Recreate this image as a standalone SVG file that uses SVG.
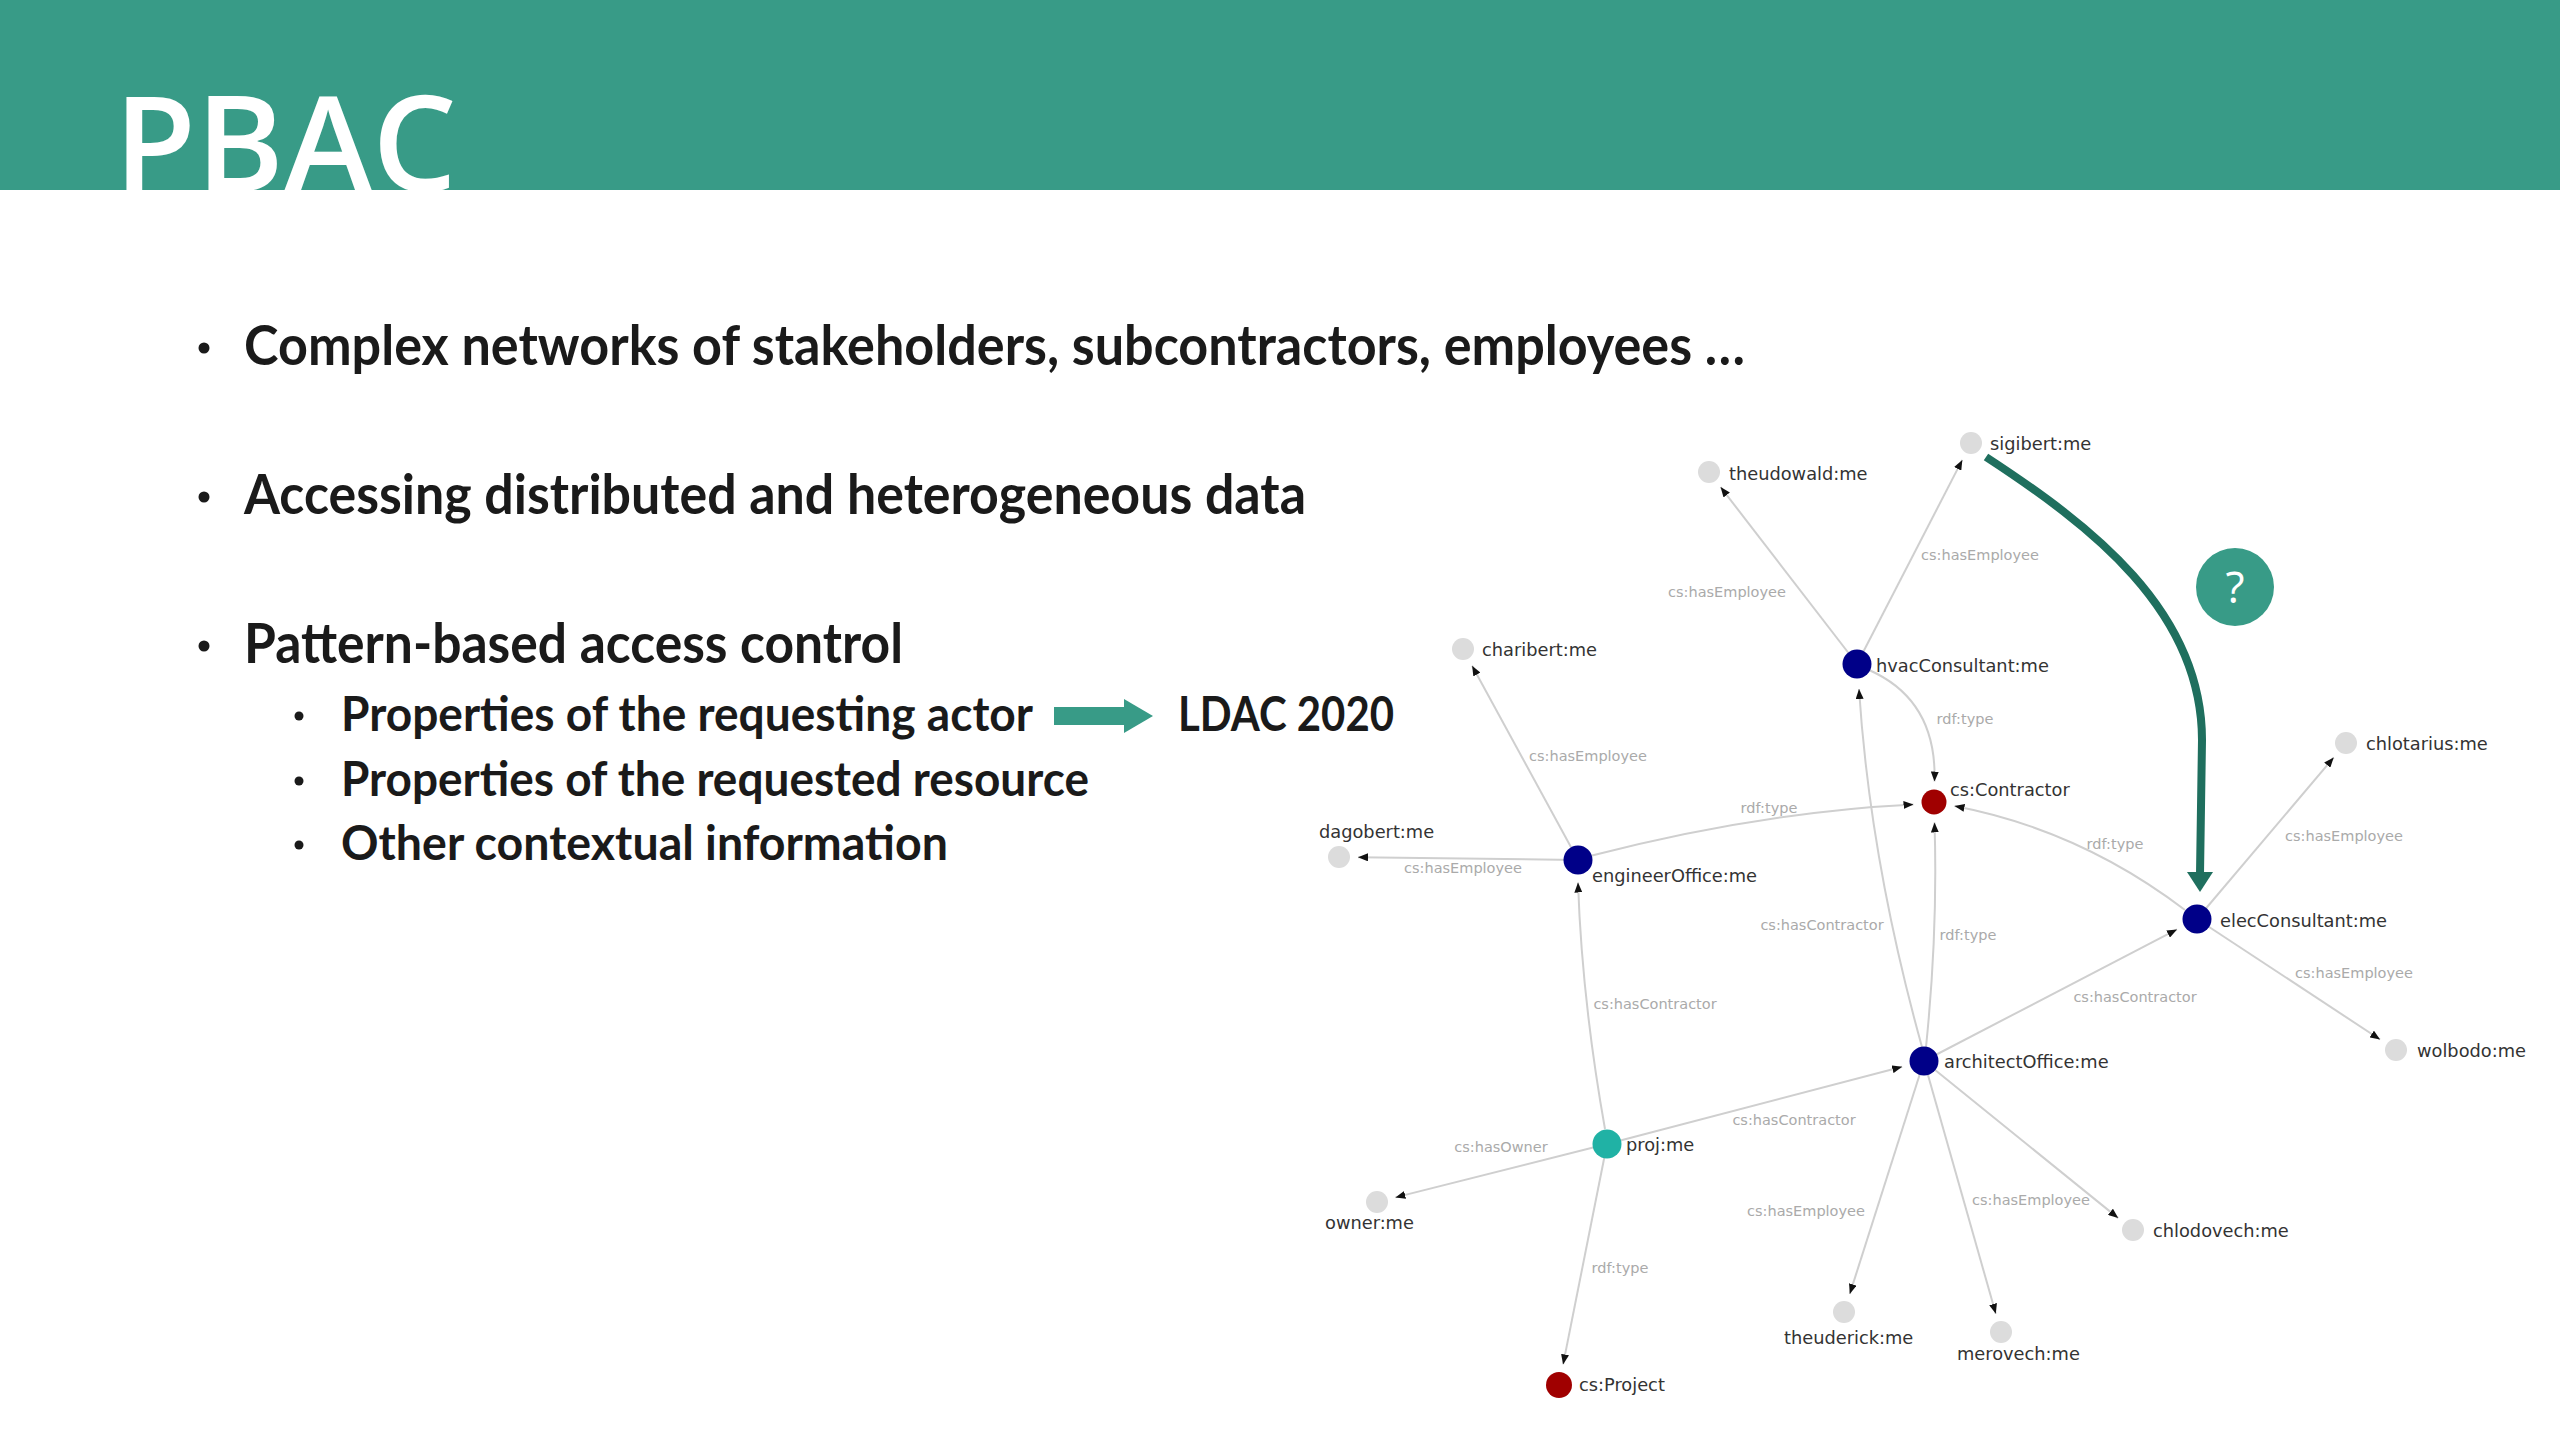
<svg xmlns="http://www.w3.org/2000/svg" width="2560" height="1440" viewBox="0 0 2560 1440">
<defs>
<marker id="ah" viewBox="0 0 10 8" refX="10" refY="4" markerWidth="10" markerHeight="8" markerUnits="userSpaceOnUse" orient="auto"><path d="M0,0 L10,4 L0,8 z" fill="#111"/></marker>
<style>
.body{font-family:Lato,"Open Sans","Liberation Sans",sans-serif;font-weight:700;fill:#1a1a1a}
.b1{font-size:56px}
.b2{font-size:48px}
.edge{fill:none;stroke:#cfcfcf;stroke-width:2;marker-end:url(#ah)}
.el{font-family:"DejaVu Sans",Verdana,sans-serif;font-size:14.5px;fill:#aaaaaa}
.nl{font-family:"DejaVu Sans",Verdana,sans-serif;font-size:17.8px;fill:#333}
.grey{fill:#dcdcdc}
.navy{fill:#000088}
.red{fill:#a00000}
.teal{fill:#20b2a5}
</style>
</defs>
<rect x="0" y="0" width="2560" height="1440" fill="#ffffff"/>
<g id="header">
<rect x="0" y="0" width="2560" height="190" fill="#389b87"/>
<text x="114" y="191" font-family="'Open Sans','Noto Sans',sans-serif" font-size="133" font-weight="600" fill="#ffffff" textLength="343" lengthAdjust="spacingAndGlyphs">PBAC</text>
</g>
<g id="bullets">
<circle cx="204" cy="348" r="5.5" fill="#1a1a1a"/>
<text class="body b1" x="244" y="365" textLength="1501" lengthAdjust="spacingAndGlyphs">Complex networks of stakeholders, subcontractors, employees …</text>
<circle cx="204" cy="497" r="5.5" fill="#1a1a1a"/>
<text class="body b1" x="244" y="514" textLength="1062" lengthAdjust="spacingAndGlyphs">Accessing distributed and heterogeneous data</text>
<circle cx="204" cy="646" r="5.5" fill="#1a1a1a"/>
<text class="body b1" x="244" y="663" textLength="659" lengthAdjust="spacingAndGlyphs">Pattern-based access control</text>
<circle cx="299" cy="716" r="4.5" fill="#1a1a1a"/>
<text class="body b2" x="341" y="731" textLength="692" lengthAdjust="spacingAndGlyphs">Properties of the requesting actor</text>
<rect x="1054" y="707" width="74" height="18" fill="#389b87"/>
<polygon points="1124,699 1153,716 1124,733" fill="#389b87"/>
<text class="body b2" x="1178" y="731" textLength="216" lengthAdjust="spacingAndGlyphs">LDAC 2020</text>
<circle cx="299" cy="781" r="4.5" fill="#1a1a1a"/>
<text class="body b2" x="341" y="796" textLength="748" lengthAdjust="spacingAndGlyphs">Properties of the requested resource</text>
<circle cx="299" cy="845" r="4.5" fill="#1a1a1a"/>
<text class="body b2" x="341" y="860" textLength="607" lengthAdjust="spacingAndGlyphs">Other contextual information</text>
</g>
<g id="connectors">
<line class="edge" x1="1857" y1="664" x2="1720.6" y2="487.1"/>
<line class="edge" x1="1857" y1="664" x2="1962.3" y2="459.9"/>
<path class="edge" d="M1869,670 Q1937,700 1934.5,781.5"/>
<line class="edge" x1="1578" y1="860" x2="1472.1" y2="665.7"/>
<line class="edge" x1="1578" y1="860" x2="1358" y2="857.2"/>
<path class="edge" d="M1590,856 Q1760,812 1913.5,804.5"/>
<path class="edge" d="M1922,1047 Q1870,860 1859,689"/>
<path class="edge" d="M1926,1047 Q1938,930 1934.5,822.5"/>
<path class="edge" d="M2185,910 Q2080,830 1954.5,806"/>
<line class="edge" x1="2197" y1="919" x2="2333.7" y2="757.5"/>
<line class="edge" x1="2197" y1="919" x2="2380.1" y2="1039.5"/>
<line class="edge" x1="1924" y1="1061" x2="2177" y2="929.4"/>
<path class="edge" d="M1605,1129 Q1582,1000 1578,882.5"/>
<line class="edge" x1="1607" y1="1144" x2="1902.2" y2="1066.7"/>
<line class="edge" x1="1607" y1="1144" x2="1395.4" y2="1197.4"/>
<line class="edge" x1="1607" y1="1144" x2="1563.1" y2="1364.4"/>
<line class="edge" x1="1924" y1="1061" x2="1849.8" y2="1293.9"/>
<line class="edge" x1="1924" y1="1061" x2="1995.8" y2="1313.7"/>
<line class="edge" x1="1924" y1="1061" x2="2118.2" y2="1218.1"/>
<g text-anchor="middle" dominant-baseline="central">
<text class="el" x="1727" y="592">cs:hasEmployee</text>
<text class="el" x="1980" y="555">cs:hasEmployee</text>
<text class="el" x="1965" y="719">rdf:type</text>
<text class="el" x="1588" y="756">cs:hasEmployee</text>
<text class="el" x="1769" y="808">rdf:type</text>
<text class="el" x="1463" y="868">cs:hasEmployee</text>
<text class="el" x="1822" y="925">cs:hasContractor</text>
<text class="el" x="1968" y="935">rdf:type</text>
<text class="el" x="2115" y="844">rdf:type</text>
<text class="el" x="2344" y="836">cs:hasEmployee</text>
<text class="el" x="2354" y="973">cs:hasEmployee</text>
<text class="el" x="2135" y="997">cs:hasContractor</text>
<text class="el" x="1655" y="1004">cs:hasContractor</text>
<text class="el" x="1794" y="1120">cs:hasContractor</text>
<text class="el" x="1501" y="1147">cs:hasOwner</text>
<text class="el" x="1620" y="1268">rdf:type</text>
<text class="el" x="1806" y="1211">cs:hasEmployee</text>
<text class="el" x="2031" y="1200">cs:hasEmployee</text>
</g>
<path d="M1986,457 C2090,525 2202,610 2202,740 L2200,874" fill="none" stroke="#1f6f5e" stroke-width="8"/>
<polygon points="2187,872 2213,872 2200,892" fill="#1f6f5e"/>
</g>
<g id="question">
<circle cx="2235" cy="587" r="39" fill="#389b87"/>
<text x="2235" y="603" text-anchor="middle" font-family="'Open Sans','DejaVu Sans',sans-serif" font-size="44" fill="#ffffff">?</text>
</g>
<g dominant-baseline="central">
<g id="n-sigibert"><circle class="grey" cx="1971" cy="443" r="11"/><text class="nl" x="1990" y="443">sigibert:me</text></g>
<g id="n-theudowald"><circle class="grey" cx="1709" cy="472" r="11"/><text class="nl" x="1729" y="473">theudowald:me</text></g>
<g id="n-charibert"><circle class="grey" cx="1463" cy="649" r="11"/><text class="nl" x="1482" y="649">charibert:me</text></g>
<g id="n-hvacConsultant"><circle class="navy" cx="1857" cy="664" r="14.5"/><text class="nl" x="1876" y="665">hvacConsultant:me</text></g>
<g id="n-chlotarius"><circle class="grey" cx="2346" cy="743" r="11"/><text class="nl" x="2366" y="743">chlotarius:me</text></g>
<g id="n-contractor"><circle class="red" cx="1934" cy="802" r="12.5"/><text class="nl" x="1950" y="789">cs:Contractor</text></g>
<g id="n-dagobert"><circle class="grey" cx="1339" cy="857" r="11"/><text class="nl" x="1319" y="831">dagobert:me</text></g>
<g id="n-engineerOffice"><circle class="navy" cx="1578" cy="860" r="14.5"/><text class="nl" x="1592" y="875">engineerOffice:me</text></g>
<g id="n-elecConsultant"><circle class="navy" cx="2197" cy="919" r="14.5"/><text class="nl" x="2220" y="920">elecConsultant:me</text></g>
<g id="n-wolbodo"><circle class="grey" cx="2396" cy="1050" r="11"/><text class="nl" x="2417" y="1050">wolbodo:me</text></g>
<g id="n-architectOffice"><circle class="navy" cx="1924" cy="1061" r="14.5"/><text class="nl" x="1944" y="1061">architectOffice:me</text></g>
<g id="n-proj"><circle class="teal" cx="1607" cy="1144" r="14.5"/><text class="nl" x="1626" y="1144">proj:me</text></g>
<g id="n-owner"><circle class="grey" cx="1377" cy="1202" r="11"/><text class="nl" x="1325" y="1222">owner:me</text></g>
<g id="n-chlodovech"><circle class="grey" cx="2133" cy="1230" r="11"/><text class="nl" x="2153" y="1230">chlodovech:me</text></g>
<g id="n-theuderick"><circle class="grey" cx="1844" cy="1312" r="11"/><text class="nl" x="1784" y="1337">theuderick:me</text></g>
<g id="n-merovech"><circle class="grey" cx="2001" cy="1332" r="11"/><text class="nl" x="1957" y="1353">merovech:me</text></g>
<g id="n-project"><circle class="red" cx="1559" cy="1385" r="13"/><text class="nl" x="1579" y="1384">cs:Project</text></g>
</g>
</svg>
